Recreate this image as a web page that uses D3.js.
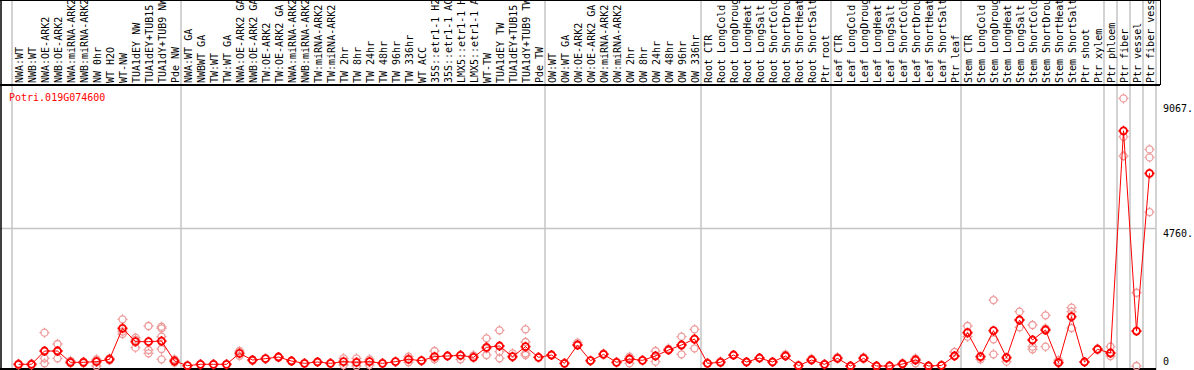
<!DOCTYPE html>
<html>
<head>
<meta charset="utf-8">
<script src="https://cdnjs.cloudflare.com/ajax/libs/d3/7.8.5/d3.min.js"></script>
<style>
  body { margin: 0; background: #fff; }
  svg { display: block; font-family: "DejaVu Sans Mono", monospace; }
</style>
</head>
<body>
<script>
var width = 1194, height = 370;

// sample labels (already cut to 14 chars like the original)
var samples = [
  "NWA:WT", "NWB:WT", "NWA:OE-ARK2", "NWB:OE-ARK2", "NWA:miRNA-ARK2", "NWB:miRNA-ARK2",
  "NW 0hr", "WT H2O", "WT-NW", "TUA1dEY NW", "TUA1dEY+TUB15", "TUA1dY+TUB9 NW", "Pde NW",
  "NWA:WT GA", "NWBWT GA", "TW:WT", "TW:WT GA", "NWA:OE-ARK2 GA", "NWB:OE-ARK2 GA",
  "TW:OE-ARK2", "TW:OE-ARK2 GA", "NWA:miRNA-ARK2", "NWB:miRNA-ARK2", "TW:miRNA-ARK2",
  "TW:miRNA-ARK2", "TW 2hr", "TW 8hr", "TW 24hr", "TW 48hr", "TW 96hr", "TW 336hr",
  "WT ACC", "35S::etr1-1 H2", "35S::etr1-1 AC", "LMX5::etr1-1 H", "LMX5::etr1-1 A",
  "WT-TW", "TUA1dEY TW", "TUA1dEY+TUB15", "TUA1dY+TUB9 TW", "Pde TW",
  "OW:WT", "OW:WT GA", "OW:OE-ARK2", "OW:OE-ARK2 GA", "OW:miRNA-ARK2", "OW:miRNA-ARK2",
  "OW 2hr", "OW 8hr", "OW 24hr", "OW 48hr", "OW 96hr", "OW 336hr",
  "Root CTR", "Root LongCold", "Root LongDroug", "Root LongHeat", "Root LongSalt",
  "Root ShortCold", "Root ShortDrou", "Root ShortHeat", "Root ShortSalt", "Ptr root",
  "Leaf CTR", "Leaf LongCold", "Leaf LongDroug", "Leaf LongHeat", "Leaf LongSalt",
  "Leaf ShortCold", "Leaf ShortDrou", "Leaf ShortHeat", "Leaf ShortSalt", "Ptr leaf",
  "Stem CTR", "Stem LongCold", "Stem LongDroug", "Stem LongHeat", "Stem LongSalt",
  "Stem ShortCold", "Stem ShortDrou", "Stem ShortHeat", "Stem ShortSalt", "Ptr shoot",
  "Ptr xylem", "Ptr phloem", "Ptr fiber", "Ptr vessel", "Ptr fiber vess"
];

// mean expression per sample
var means = [
  59, 59, 517, 517, 127, 127, 150, 230, 1300, 840, 840, 862, 172,
  12, 59, 59, 59, 437, 207, 253, 310, 172, 92, 138, 92, 150, 127, 150, 92, 150, 230,
  184, 322, 345, 368, 299, 644, 690, 322, 667, 299,
  379, 92, 724, 184, 402, 127, 241, 195, 345, 552, 724, 931,
  92, 127, 379, 138, 276, 138, 345, 12, 207, 59,
  265, 0, 265, 0, 0, 69, 207, 0, 20, 345,
  1150, 322, 1219, 287, 1587, 897, 1242, 115, 1702, 138,
  575, 448, 8118, 1207, 6648
];

// replicate values per sample
var replicates = [
  [40, 80], [40, 80], [1150, 265, 93], [759, 265, 517], [100, 180], [100, 150],
  [230, 0, 190], [200, 260], [1610, 1104, 1190], [977, 632, 900], [1380, 552, 437],
  [1357, 1300, 1012, 587, 230], [230, 120],
  [12], [59], [59], [59], [517, 350], [207, 180], [253], [310, 290], [172], [92], [138],
  [92], [265, 35], [265, 0], [230, 35], [92], [150], [322, 127],
  [184], [517, 230], [345], [368, 230], [299, 368], [954, 379, 600], [1231, 494, 265],
  [322, 437], [1265, 828, 437, 379], [299],
  [379], [92], [724, 805], [184], [402, 430], [127], [320, 241, 92], [195], [517, 150],
  [552, 600], [1012, 402, 724], [1265, 609, 931],
  [92], [127, 160], [379], [138], [276], [138], [345, 400], [12], [207, 250], [59],
  [265, 300], [0], [265, 300], [0], [0], [69, 100], [265, 207, 92], [0], [20], [345, 483],
  [1380, 1150, 1012], [322, 230], [2277, 920, 402], [287, 150], [1875, 1335, 1587],
  [1415, 667, 575], [1748, 667, 1300], [115, 200], [2012, 1875, 1311], [138],
  [575, 600], [667, 345], [9235, 7911, 7245], [2529, 0], [7476, 7200, 5313]
];

// group separators: index of last sample in each group (-1 = before first)
var separators = [-1, 12, 40, 52, 62, 72, 83, 84, 85, 86, 87];
var yTicks = [0, 4760, 9067];
var geneName = "Potri.019G074600";

var labelH = 85, plotBottom = 366, plotRight = 1160;

var x = d3.scaleBand().domain(d3.range(samples.length)).range([12, 1156]).padding(0);
var y = d3.scaleLinear().domain([0, 9067]).range([plotBottom, 103.3]);
function cx(i) { return x(i) + x.bandwidth() / 2; }

var svg = d3.select("body").append("svg")
    .attr("width", width)
    .attr("height", height);

// grid
svg.append("line")
    .attr("x1", 0).attr("x2", 1156)
    .attr("y1", Math.round(y(4760)) + 0.5).attr("y2", Math.round(y(4760)) + 0.5)
    .style("stroke", "#c4c4c4").style("stroke-width", 1.5);

svg.selectAll(".sep")
    .data(separators)
  .enter().append("line")
    .attr("class", "sep")
    .attr("x1", function(d) { return x(d) === undefined ? 12 : x(d) + x.bandwidth(); })
    .attr("x2", function(d) { return x(d) === undefined ? 12 : x(d) + x.bandwidth(); })
    .attr("y1", 0).attr("y2", height)
    .style("stroke", "#c4c4c4").style("stroke-width", 1.5);

// frame
var frame = svg.append("g").style("stroke", "#000").style("fill", "none");
frame.append("line").attr("x1", 0).attr("x2", plotRight).attr("y1", 0.5).attr("y2", 0.5).style("stroke-width", 1);
frame.append("line").attr("x1", 0).attr("x2", plotRight).attr("y1", labelH).attr("y2", labelH).style("stroke-width", 2);
frame.append("line").attr("x1", 1).attr("x2", 1).attr("y1", 0).attr("y2", height).style("stroke-width", 1.5);
frame.append("line").attr("x1", plotRight + 0.5).attr("x2", plotRight + 0.5).attr("y1", 0).attr("y2", labelH).style("stroke-width", 1);
frame.append("line").attr("x1", 0).attr("x2", 1156).attr("y1", 369).attr("y2", 369).style("stroke-width", 2);

// sample labels
svg.selectAll(".lab")
    .data(samples)
  .enter().append("text")
    .attr("class", "lab")
    .attr("transform", function(d, i) { return "translate(" + (cx(i) + 0.5) + "," + 83 + ") rotate(-90)"; })
    .attr("dy", "0.35em")
    .style("font-size", "10px")
    .style("fill", "#000")
    .text(function(d) { return d; });

// gene name
svg.append("text")
    .attr("x", 9).attr("y", 101)
    .style("font-size", "10px")
    .style("fill", "#ff0000")
    .text(geneName);

// right axis
var axis = svg.append("g")
    .attr("transform", "translate(" + plotRight + ",0)")
    .call(d3.axisRight(y).tickValues(yTicks).tickSize(0).tickPadding(3)
        .tickFormat(function(d) { return d === 0 ? "0" : d + "."; }));
axis.select(".domain").remove();
axis.selectAll("text")
    .style("font-family", "'DejaVu Sans Mono', monospace")
    .style("font-size", "10px")
    .style("fill", "#000")
    .attr("dy", function(d) { return d === 0 ? "-0.15em" : "0.85em"; });

// marker: circle with four small ticks
function marker(r) {
  return "M" + (-r) + ",0A" + r + "," + r + " 0 1,1 " + r + ",0A" + r + "," + r + " 0 1,1 " + (-r) + ",0" +
    "M0," + (-r) + "V" + (-r - 1.5) + "M0," + r + "V" + (r + 1.5) +
    "M" + (-r) + ",0H" + (-r - 1.5) + "M" + r + ",0H" + (r + 1.5);
}

// replicate points
var reps = [];
replicates.forEach(function(arr, i) { arr.forEach(function(v) { reps.push({i: i, v: v}); }); });
svg.selectAll(".rep")
    .data(reps)
  .enter().append("path")
    .attr("class", "rep")
    .attr("transform", function(d) { return "translate(" + cx(d.i) + "," + y(d.v) + ")"; })
    .attr("d", marker(3.5))
    .style("fill", "none")
    .style("stroke", "#ee9a9a")
    .style("stroke-width", 1.3);

// mean line
var line = d3.line()
    .x(function(d, i) { return cx(i); })
    .y(function(d) { return y(d); });
svg.append("path")
    .datum(means)
    .attr("d", line)
    .style("fill", "none")
    .style("stroke", "#ff0000")
    .style("stroke-width", 1);

svg.selectAll(".mean")
    .data(means)
  .enter().append("path")
    .attr("class", "mean")
    .attr("transform", function(d, i) { return "translate(" + cx(i) + "," + y(d) + ")"; })
    .attr("d", marker(3.5))
    .style("fill", "none")
    .style("stroke", "#ff0000")
    .style("stroke-width", 1.8);
</script>
</body>
</html>
